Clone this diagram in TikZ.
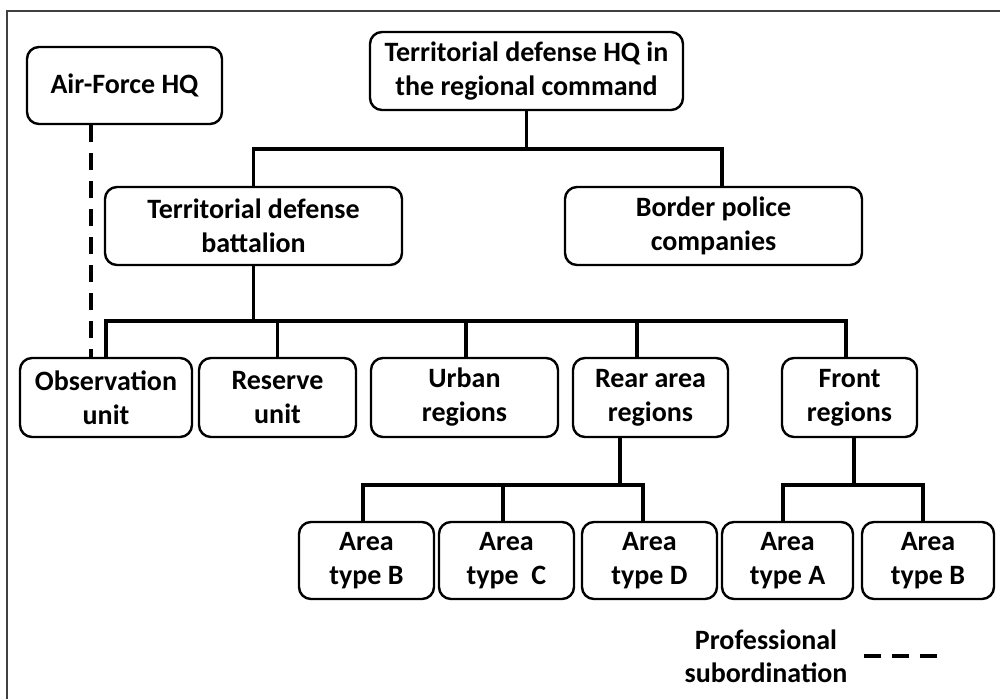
\documentclass[tikz,border=0pt]{standalone}
\usepackage{fontspec}
\setmainfont{Carlito}
\begin{document}
\begin{tikzpicture}[x=1pt,y=-1pt,
  box/.style={draw, line width=2.4pt, rounded corners=12pt, align=center,
    font=\fontsize{28}{34}\selectfont\bfseries, inner sep=0pt},
  conn/.style={line width=3.6pt},
  prof/.style={line width=3.6pt, dash pattern=on 17pt off 11pt}]
\useasboundingbox (0,0) rectangle (1000,699);
\draw[line width=2pt, black!75] (7,699) -- (7,11) -- (1000,11);

\node[box, minimum width=195pt, minimum height=77pt] (af) at (124.5,85.5) {Air-Force HQ};
\node[box, minimum width=313pt, minimum height=78pt] (top) at (526.5,71) {Territorial defense HQ in\\the regional command};
\node[box, minimum width=297pt, minimum height=78pt] (bat) at (253.5,226) {Territorial defense\\battalion};
\node[box, minimum width=297pt, minimum height=78pt] (bp) at (713.5,226) {Border police\\companies};

\node[box, minimum width=172pt, minimum height=79pt] (obs) at (106,397.5) {Observation\\unit};
\node[box, minimum width=157pt, minimum height=79pt] (res) at (277.5,397.5) {Reserve\\unit};
\node[box, minimum width=187pt, minimum height=79pt] (urb) at (464.5,397.5) {Urban\\regions};
\node[box, minimum width=155pt, minimum height=79pt] (rear) at (650.5,397.5) {Rear area\\regions};
\node[box, minimum width=135pt, minimum height=79pt] (front) at (849.5,397.5) {Front\\regions};

\node[box, minimum width=135pt, minimum height=77pt] (aB) at (366.5,560.5) {Area\\type B};
\node[box, minimum width=135pt, minimum height=77pt] (aC) at (506.5,560.5) {Area\\type\ \ C};
\node[box, minimum width=135pt, minimum height=77pt] (aD) at (649.5,560.5) {Area\\type D};
\node[box, minimum width=131pt, minimum height=77pt] (aA) at (787.5,560.5) {Area\\type A};
\node[box, minimum width=132pt, minimum height=77pt] (aB2) at (928,560.5) {Area\\type B};

% level 1
\draw[conn] (top.south) -- ++(0,38) coordinate (b1);
\draw[conn] (bat.north) |- (b1) -| ([xshift=8.5pt]bp.north);
% level 2
\draw[conn] (bat.south) -- ++(0,55) coordinate (b2);
\draw[conn] (obs.north) |- (b2) -| ([xshift=-3.5pt]front.north);
\draw[conn] (res.north) -- (res.north |- b2);
\draw[conn] ([xshift=1.5pt]urb.north) -- ([xshift=1.5pt]urb.north |- b2);
\draw[conn] ([xshift=-13.5pt]rear.north) -- ([xshift=-13.5pt]rear.north |- b2);
% level 3 rear
\draw[conn] ([xshift=-30.5pt]rear.south) -- ++(0,47) coordinate (b3);
\draw[conn] ([xshift=-3.5pt]aB.north) |- (b3) -| ([xshift=-6.5pt]aD.north);
\draw[conn] ([xshift=-3.5pt]aC.north) -- ([xshift=-3.5pt]aC.north |- b3);
% level 3 front
\draw[conn] ([xshift=4.5pt]front.south) -- ++(0,47) coordinate (b4);
\draw[conn] ([xshift=-4.5pt]aA.north) |- (b4) -| ([xshift=-5pt]aB2.north);
% professional subordination
\draw[prof] ([xshift=-33.5pt]af.south) -- ([xshift=-33.5pt]af.south |- obs.north);

% legend
\node[font=\fontsize{28}{33}\selectfont\bfseries, align=center, inner sep=0pt] (leg) at (766,656) {Professional\\subordination};
\coordinate (l1) at (864,656);
\coordinate (l2) at (938,656);
\draw[prof] (l1) -- (l2);
\end{tikzpicture}
\end{document}
